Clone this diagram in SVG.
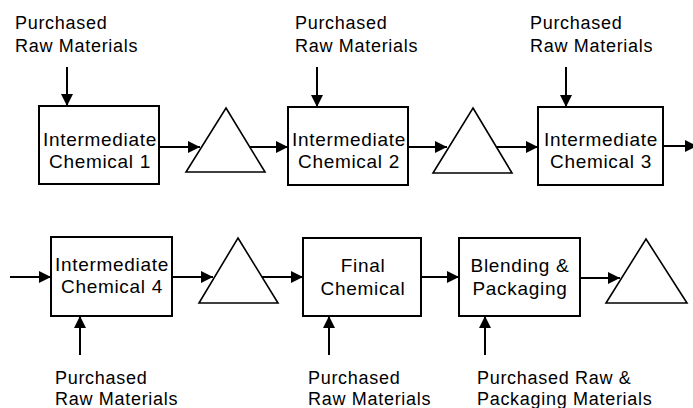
<svg xmlns="http://www.w3.org/2000/svg" width="693" height="408" viewBox="0 0 693 408">
  <style>
    .box { fill: #fff; stroke: #000; stroke-width: 2; }
    .tri { fill: #fff; stroke: #000; stroke-width: 1.6; stroke-linejoin: miter; }
    .lbl { font-family: "Liberation Sans", Arial, sans-serif; font-size: 18px; letter-spacing: 0.7px; fill: #000; }
    .btx { font-family: "Liberation Sans", Arial, sans-serif; font-size: 19px; letter-spacing: 0.7px; fill: #000; text-anchor: middle; }
    .flow line { stroke: #000; stroke-width: 2; marker-end: url(#head); }
  </style>
  <defs>
    <marker id="head" markerUnits="userSpaceOnUse" markerWidth="12" markerHeight="12" refX="12" refY="6" orient="auto">
      <path d="M0,0 L12,6 L0,12 z" fill="#000"/>
    </marker>
  </defs>
  <rect width="693" height="408" fill="#fff"/>

  <!-- raw material inputs, top row -->
  <g id="in1">
    <text class="lbl" x="15" y="29">Purchased</text>
    <text class="lbl" x="15" y="52">Raw Materials</text>
  </g>
  <g id="in2">
    <text class="lbl" x="295" y="29">Purchased</text>
    <text class="lbl" x="295" y="52">Raw Materials</text>
  </g>
  <g id="in3">
    <text class="lbl" x="530" y="29">Purchased</text>
    <text class="lbl" x="530" y="52">Raw Materials</text>
  </g>

  <!-- process steps -->
  <g id="chem1">
    <rect class="box" x="39" y="106" width="120" height="78"/>
    <text class="btx" x="100" y="146">Intermediate</text>
    <text class="btx" x="100" y="168">Chemical 1</text>
  </g>
  <g id="store1">
    <polygon class="tri" points="226,108 265,172 186,172"/>
  </g>
  <g id="chem2">
    <rect class="box" x="288" y="107" width="120" height="78"/>
    <text class="btx" x="349" y="146">Intermediate</text>
    <text class="btx" x="349" y="168">Chemical 2</text>
  </g>
  <g id="store2">
    <polygon class="tri" points="473,108 512,173 433,173"/>
  </g>
  <g id="chem3">
    <rect class="box" x="538" y="107" width="125" height="78"/>
    <text class="btx" x="601" y="146">Intermediate</text>
    <text class="btx" x="601" y="168">Chemical 3</text>
  </g>

  <g id="chem4">
    <rect class="box" x="51" y="237" width="121" height="79"/>
    <text class="btx" x="112" y="271">Intermediate</text>
    <text class="btx" x="112" y="293">Chemical 4</text>
  </g>
  <g id="store3">
    <polygon class="tri" points="238,238 278,303 199,303"/>
  </g>
  <g id="final">
    <rect class="box" x="303" y="238" width="118" height="78"/>
    <text class="btx" x="363" y="272">Final</text>
    <text class="btx" x="363" y="295">Chemical</text>
  </g>
  <g id="blend">
    <rect class="box" x="459" y="238" width="121" height="78"/>
    <text class="btx" x="520" y="272">Blending &amp;</text>
    <text class="btx" x="520" y="295">Packaging</text>
  </g>
  <g id="store4">
    <polygon class="tri" points="646,239 687,303 606,303"/>
  </g>

  <!-- raw material inputs, bottom row -->
  <g id="in4">
    <text class="lbl" x="55" y="384">Purchased</text>
    <text class="lbl" x="55" y="405">Raw Materials</text>
  </g>
  <g id="in5">
    <text class="lbl" x="308" y="384">Purchased</text>
    <text class="lbl" x="308" y="405">Raw Materials</text>
  </g>
  <g id="in6">
    <text class="lbl" x="477" y="384">Purchased Raw &amp;</text>
    <text class="lbl" x="477" y="405">Packaging Materials</text>
  </g>

  <!-- connectors -->
  <g id="connectors" class="flow">
    <line x1="67" y1="67" x2="67" y2="106"/>
    <line x1="317" y1="67" x2="317" y2="107"/>
    <line x1="566" y1="67" x2="566" y2="107"/>

    <line x1="159" y1="147" x2="200" y2="147"/>
    <line x1="250" y1="147" x2="288" y2="147"/>
    <line x1="408" y1="147" x2="447" y2="147"/>
    <line x1="497" y1="147" x2="538" y2="147"/>
    <line x1="663" y1="146" x2="697" y2="146"/>

    <line x1="10" y1="277" x2="51" y2="277"/>
    <line x1="172" y1="277" x2="213" y2="277"/>
    <line x1="262" y1="277" x2="303" y2="277"/>
    <line x1="421" y1="277" x2="459" y2="277"/>
    <line x1="580" y1="278" x2="620" y2="278"/>

    <line x1="80" y1="355" x2="80" y2="316"/>
    <line x1="329" y1="355" x2="329" y2="316"/>
    <line x1="485" y1="355" x2="485" y2="316"/>
  </g>
</svg>
